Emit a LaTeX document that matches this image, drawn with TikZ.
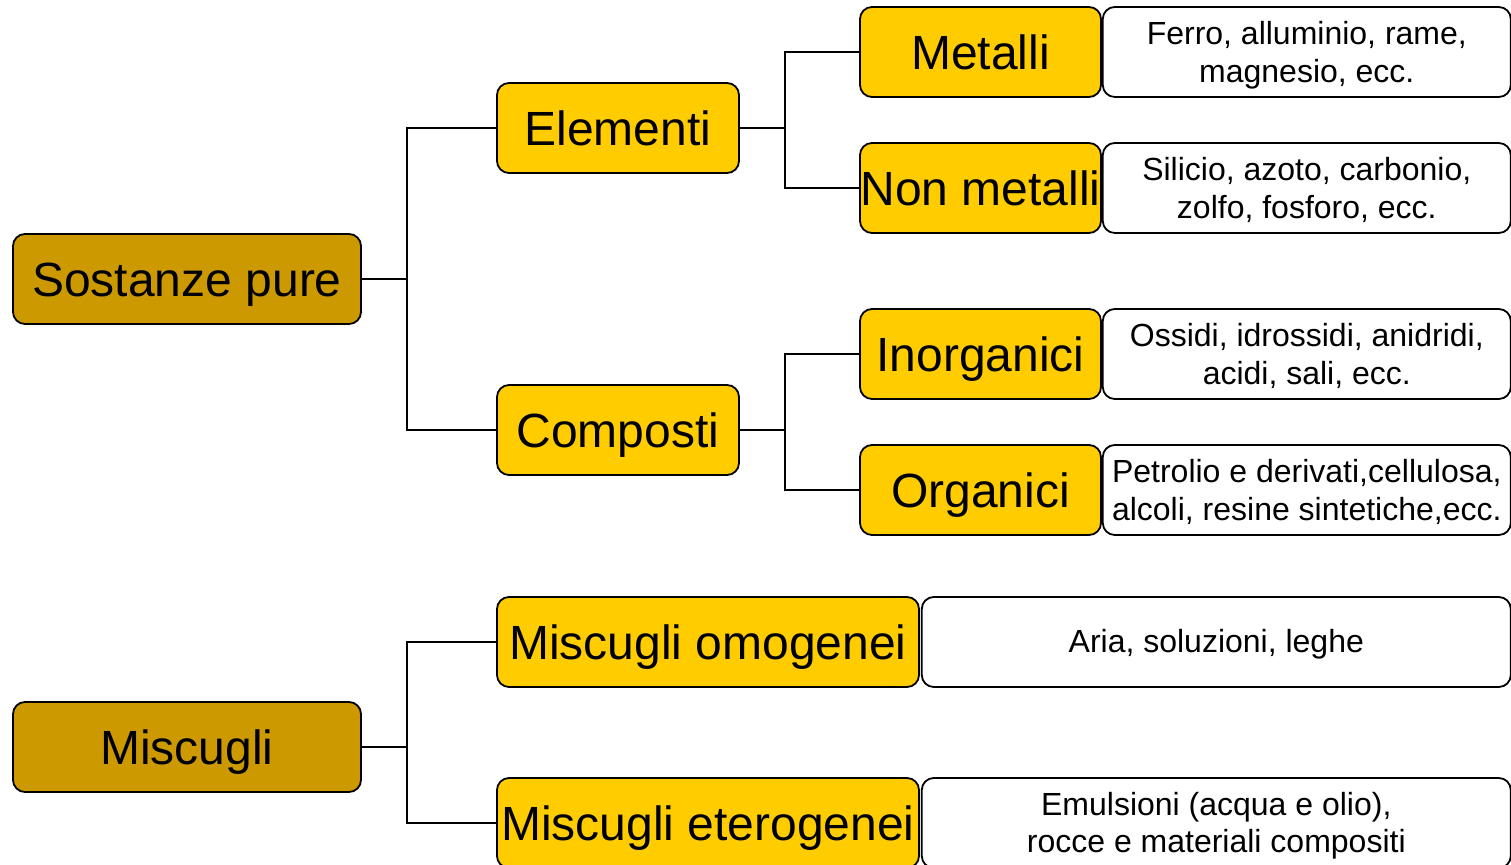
\documentclass[tikz,border=0pt]{standalone}
\usepackage{fontspec}
\setmainfont{Liberation Sans}
\usepackage{tikz}
\usetikzlibrary{positioning}
\definecolor{darkgold}{HTML}{CC9900}
\definecolor{gold}{HTML}{FFCC00}
\begin{document}
\begin{tikzpicture}[x=0.5pt, y=-0.5pt,
		root/.style={draw=black, line width=0.9pt, fill=darkgold, rounded corners=6pt, minimum width=174pt, minimum height=45pt, inner sep=0pt, text height=18pt, text depth=0pt, font=\fontsize{24}{28}\selectfont},
		branch/.style={draw=black, line width=0.9pt, fill=gold, rounded corners=6pt, minimum height=45pt, inner sep=0pt, text height=18pt, text depth=0pt, font=\fontsize{24}{28}\selectfont},
		desc/.style={draw=black, line width=0.9pt, fill=white, rounded corners=6pt, minimum height=45pt, inner sep=0pt, align=center, text height=31pt, text depth=0pt, font=\fontsize{16}{19}\selectfont},
		link/.style={draw=black, line width=0.65pt}]
		\useasboundingbox (0,0) rectangle (1511,865);
		%\draw[help lines] (0,0) grid (1511,865);
		\node[root] (sostanze) at (187,279) {Sostanze pure};
		\node[root] (miscugli) at (187,747) {Miscugli};
		\node[branch, minimum width=121pt] (elementi) at (618,128) {Elementi};
		\node[branch, minimum width=121pt] (composti) at (618,430) {Composti};
		\node[branch, minimum width=120.5pt] (metalli) at (980.5,52) {Metalli};
		\node[branch, minimum width=120.5pt] (nonmetalli) at (980.5,188) {Non metalli};
		\node[branch, minimum width=120.5pt] (inorganici) at (980.5,354) {Inorganici};
		\node[branch, minimum width=120.5pt] (organici) at (980.5,490) {Organici};
		\node[branch, minimum width=211pt] (omogenei) at (708,642) {Miscugli omogenei};
		\node[branch, minimum width=211pt] (eterogenei) at (708,823) {Miscugli eterogenei};
		\node[desc, minimum width=204pt, right=0pt of metalli] (esmetalli) {Ferro, alluminio, rame,\\magnesio, ecc.};
		\node[desc, minimum width=204pt, right=0pt of nonmetalli] (esnonmetalli) {Silicio, azoto, carbonio,\\zolfo, fosforo, ecc.};
		\node[desc, minimum width=204pt, right=0pt of inorganici] (esinorganici) {Ossidi, idrossidi, anidridi,\\acidi, sali, ecc.};
		\node[desc, minimum width=204pt, right=0pt of organici] (esorganici) {Petrolio e derivati,cellulosa,\\alcoli, resine sintetiche,ecc.};
		\node[desc, minimum width=294.5pt, text height=11pt, text depth=0pt, right=0.5pt of omogenei] (esomogenei) {Aria, soluzioni, leghe};
		\node[desc, minimum width=294.5pt, text height=30pt, right=0.5pt of eterogenei] (eseterogenei) {Emulsioni (acqua e olio),\\rocce e materiali compositi};
		\draw[link] (sostanze.east) -- ++(45,0) |- (elementi.west);
		\draw[link] (sostanze.east) -- ++(45,0) |- (composti.west);
		\draw[link] (elementi.east) -- ++(45,0) |- (metalli.west);
		\draw[link] (elementi.east) -- ++(45,0) |- (nonmetalli.west);
		\draw[link] (composti.east) -- ++(45,0) |- (inorganici.west);
		\draw[link] (composti.east) -- ++(45,0) |- (organici.west);
		\draw[link] (miscugli.east) -- ++(45,0) |- (omogenei.west);
		\draw[link] (miscugli.east) -- ++(45,0) |- (eterogenei.west);
	\end{tikzpicture}
\end{document}
